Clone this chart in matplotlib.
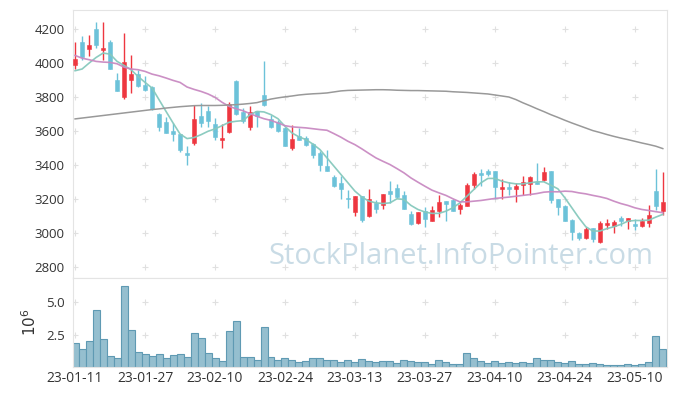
import matplotlib
matplotlib.use("Agg")
import matplotlib.pyplot as plt
import numpy as np

# ---------------- data ----------------
opens = [3986, 4125, 4086, 4202, 4078, 4125, 3898, 3798, 3902, 3937,
         3872, 3859, 3700, 3653, 3602, 3584, 3471, 3527, 3690, 3719,
         3641, 3545, 3594, 3896, 3709, 3621, 3719, 3809, 3672, 3653,
         3615, 3500, 3571, 3557, 3525, 3467, 3392, 3329, 3294, 3202,
         3124, 3214, 3098, 3176, 3162, 3243, 3261, 3220, 3108, 3059,
         3127, 3068, 3127, 3186, 3194, 3137, 3157, 3280, 3351, 3362,
         3366, 3259, 3267, 3255, 3284, 3288, 3300, 3308, 3366, 3196,
         3155, 3072, 3000, 2967, 3029, 2945, 3043, 3037, 3084, 3068,
         3049, 3039, 3059, 3245, 3127]
closes = [4025, 4033, 4108, 4104, 4088, 3967, 3833, 4006, 3937, 3862,
          3839, 3731, 3624, 3588, 3580, 3486, 3457, 3672, 3645, 3657,
          3562, 3561, 3761, 3702, 3659, 3712, 3690, 3751, 3624, 3598,
          3514, 3551, 3549, 3519, 3461, 3398, 3362, 3274, 3259, 3198,
          3214, 3072, 3196, 3137, 3231, 3231, 3212, 3137, 3051, 3124,
          3082, 3131, 3180, 3172, 3127, 3161, 3284, 3349, 3339, 3345,
          3268, 3267, 3255, 3277, 3298, 3327, 3288, 3357, 3192, 3151,
          3068, 3006, 2967, 3020, 2961, 3055, 3055, 3063, 3068, 3088,
          3039, 3068, 3106, 3157, 3182]
highs = [4127, 4161, 4166, 4245, 4245, 4137, 3941, 4176, 4049, 3961,
         3921, 3866, 3706, 3682, 3647, 3584, 3510, 3751, 3765, 3749,
         3676, 3641, 3772, 3902, 3735, 3745, 3719, 4010, 3696, 3666,
         3621, 3637, 3618, 3568, 3529, 3480, 3490, 3343, 3337, 3251,
         3214, 3214, 3255, 3192, 3231, 3302, 3288, 3245, 3127, 3124,
         3153, 3157, 3225, 3186, 3200, 3176, 3294, 3357, 3376, 3376,
         3366, 3314, 3298, 3294, 3337, 3333, 3412, 3386, 3366, 3200,
         3161, 3078, 3004, 3033, 3029, 3068, 3078, 3072, 3098, 3088,
         3078, 3084, 3161, 3376, 3359]
lows = [3965, 4019, 4039, 4088, 4020, 3967, 3833, 3788, 3824, 3859,
        3833, 3725, 3598, 3588, 3543, 3474, 3400, 3519, 3621, 3624,
        3549, 3500, 3588, 3696, 3647, 3608, 3624, 3747, 3618, 3592,
        3510, 3486, 3549, 3514, 3441, 3362, 3362, 3271, 3200, 3147,
        3098, 3062, 3094, 3117, 3137, 3176, 3206, 3137, 3047, 3051,
        3035, 3068, 3094, 3068, 3127, 3108, 3157, 3255, 3274, 3337,
        3200, 3200, 3220, 3182, 3225, 3225, 3288, 3304, 3176, 3102,
        3068, 2957, 2955, 2961, 2945, 2941, 3024, 2996, 3039, 3024,
        3016, 3035, 3035, 3133, 3102]
ma5 = [3955, 3965, 4000, 4033, 4059, 4053, 4010, 3986, 3961, 3921,
       3886, 3853, 3784, 3715, 3647, 3582, 3555, 3561, 3578, 3598,
       3612, 3631, 3651, 3657, 3661, 3696, 3715, 3712, 3696, 3672,
       3627, 3588, 3565, 3549, 3522, 3490, 3441, 3392, 3343, 3294,
       3245, 3210, 3186, 3176, 3172, 3176, 3200, 3196, 3161, 3137,
       3122, 3114, 3114, 3127, 3147, 3176, 3215, 3255, 3294, 3320,
       3320, 3304, 3294, 3288, 3288, 3294, 3300, 3300, 3280, 3259,
       3206, 3147, 3088, 3035, 3010, 3010, 3024, 3035, 3049, 3068,
       3072, 3072, 3074, 3092, 3108]
ma20 = [4045, 4029, 4020, 4010, 4006, 4004, 3996, 3976, 3965, 3961,
        3951, 3935, 3925, 3912, 3898, 3886, 3859, 3845, 3833, 3818,
        3798, 3769, 3745, 3731, 3719, 3702, 3686, 3672, 3662, 3647,
        3631, 3624, 3621, 3618, 3613, 3608, 3604, 3584, 3563, 3539,
        3519, 3494, 3467, 3441, 3421, 3402, 3378, 3353, 3323, 3298,
        3274, 3251, 3235, 3220, 3200, 3182, 3182, 3186, 3190, 3196,
        3202, 3206, 3210, 3215, 3220, 3225, 3231, 3239, 3242, 3241,
        3245, 3243, 3235, 3229, 3220, 3212, 3202, 3186, 3172, 3161,
        3147, 3137, 3131, 3124, 3118]
ma120 = [3671, 3676, 3681, 3686, 3691, 3696, 3701, 3706, 3711, 3716,
         3721, 3726, 3730, 3735, 3739, 3743, 3746, 3749, 3750, 3750,
         3750, 3751, 3753, 3755, 3758, 3762, 3767, 3778, 3788, 3795,
         3801, 3806, 3812, 3816, 3819, 3821, 3824, 3830, 3836, 3839,
         3840, 3841, 3842, 3843, 3843, 3842, 3840, 3839, 3838, 3838,
         3837, 3836, 3835, 3834, 3831, 3829, 3827, 3824, 3821, 3818,
         3812, 3806, 3800, 3785, 3766, 3749, 3731, 3714, 3696, 3680,
         3663, 3647, 3632, 3617, 3602, 3591, 3579, 3568, 3558, 3549,
         3539, 3529, 3520, 3510, 3496]
volume_m = [1.82, 1.36, 1.97, 4.39, 2.12, 0.83, 0.68, 6.21, 2.88, 1.14,
            0.98, 0.83, 0.98, 0.68, 0.91, 0.98, 0.76, 2.65, 2.20, 1.06,
            0.68, 0.45, 2.80, 3.56, 0.76, 0.76, 0.53, 3.11, 0.76, 0.53,
            0.68, 0.53, 0.38, 0.45, 0.68, 0.68, 0.53, 0.53, 0.38, 0.53,
            0.38, 0.61, 0.50, 0.38, 0.45, 0.45, 0.30, 0.53, 0.45, 0.38,
            0.38, 0.23, 0.53, 0.38, 0.23, 0.23, 1.06, 0.68, 0.45, 0.30,
            0.45, 0.30, 0.38, 0.30, 0.38, 0.30, 0.68, 0.53, 0.53, 0.38,
            0.30, 0.45, 0.23, 0.23, 0.30, 0.23, 0.15, 0.15, 0.15, 0.23,
            0.15, 0.23, 0.38, 2.35, 1.36]
tick_pos = [0, 10, 20, 30, 40, 50, 60, 70, 80]
tick_labels = ["23-01-11", "23-01-27", "23-02-10", "23-02-24", "23-03-13",
               "23-03-27", "23-04-10", "23-04-24", "23-05-10"]
price_ticks = [2800, 3000, 3200, 3400, 3600, 3800, 4000, 4200]
vol_ticks = [2.5, 5.0]

# ---------------- style ----------------
plt.rcParams['font.family'] = ['Open Sans', 'DejaVu Sans']
RED = '#ee3740'
BLUE = '#6cc2d9'
SPINE = '#e4e4e4'
TXT = '#333333'

fig = plt.figure(figsize=(6.77, 3.96), dpi=100)
W, H = 677, 396
ax = fig.add_axes([73 / W, 1 - 278 / H, 594 / W, 268 / H])
axv = fig.add_axes([73 / W, 1 - 367 / H, 594 / W, 89 / H], sharex=ax)

x = np.arange(len(opens))
o = np.array(opens); c = np.array(closes)
hi = np.array(highs); lo = np.array(lows)
up = c >= o
cols = np.where(up, RED, BLUE)

# grid crosses
for a, yt in ((ax, price_ticks), (axv, vol_ticks)):
    gx, gy = np.meshgrid(tick_pos, yt)
    a.scatter(gx.ravel(), gy.ravel(), marker='+', s=14, c='#e0e0e0',
              linewidths=0.8, zorder=0)

ax.vlines(x, lo, hi, colors=cols, linewidth=1.0, zorder=2)
body_bottom = np.minimum(o, c)
body_h = np.maximum(np.abs(c - o), 4)
ax.bar(x, body_h, bottom=body_bottom, width=0.58, color=cols,
       edgecolor=cols, linewidth=0.4, zorder=3)

ax.plot(x, ma5, color='#86c9bd', lw=1.2, alpha=0.95, zorder=4)
ax.plot(x, ma20, color='#c98ac2', lw=1.2, alpha=0.95, zorder=4)
ax.plot(x, ma120, color='#999999', lw=1.1, zorder=4)

ax.set_ylim(2733, 4313)
ax.set_xlim(-0.3, 84.6)
ax.set_yticks(price_ticks)
ax.set_yticklabels([str(v) for v in price_ticks])
ax.tick_params(axis='both', length=0, labelsize=9.5, colors=TXT, pad=6)
ax.tick_params(axis='x', labelbottom=False)
for s in ax.spines.values():
    s.set_color(SPINE)

axv.bar(x, volume_m, width=1.0, color='#95bfcf', edgecolor='#5f9ab3',
        linewidth=0.8, zorder=2)
axv.set_ylim(0, 6.85)
axv.set_yticks(vol_ticks)
axv.set_yticklabels(['2.5', '5.0'])
axv.set_xticks(tick_pos)
axv.set_xticklabels(tick_labels)
axv.tick_params(axis='y', length=0, labelsize=9.5, colors=TXT, pad=6)
axv.tick_params(axis='x', length=0, labelsize=10, colors=TXT, pad=3)
axv.set_ylabel(r'$10^6$', color=TXT, fontsize=11, labelpad=4)
for s in axv.spines.values():
    s.set_color(SPINE)

fig.text(461 / W, 1 - 256 / H, 'StockPlanet.InfoPointer.com',
         ha='center', va='center', fontsize=21, color='#c3d8e3',
         alpha=0.9, zorder=10)

fig.savefig('out.png', dpi=100, facecolor='white')
